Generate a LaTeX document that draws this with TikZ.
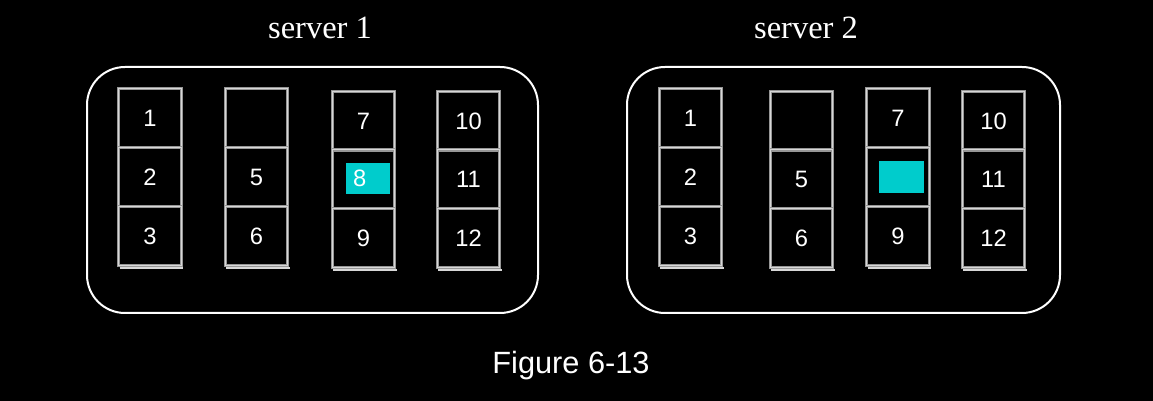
\documentclass[tikz,border=0pt]{standalone}
\usepackage{fontspec}
\setmainfont{Liberation Sans}
\newfontfamily\titlefont{Liberation Serif}
\definecolor{slotcyan}{RGB}{0,204,204}
\definecolor{slotgray}{RGB}{150,150,150}
\definecolor{slotlight}{RGB}{215,215,215}
\begin{document}
\begin{tikzpicture}[
    x=0.02cm, y=-0.02cm,
    slot/.style={rectangle, draw=slotgray, line width=0.6pt, double=slotlight, double distance=0.5pt, minimum width=1.25cm, minimum height=1.17cm, inner sep=0pt, text=white, font=\fontsize{13.5}{16}\selectfont},
    rack/.style={draw=white, line width=0.04cm, rounded corners=0.76cm},
    chunk/.style={rectangle, fill=slotcyan, inner sep=0pt, minimum height=0.63cm, text=white, font=\fontsize{13.5}{16}\selectfont},
    title/.style={text=white, font=\titlefont\fontsize{18.5}{21}\selectfont},
    shade/.style={draw=slotlight, line width=0.045cm}
]
    \fill[black] (0,0) rectangle (1153,401);

    \node[title] (t1) at (320,28) {server 1};
    \node[title] (t2) at (806,28) {server 2};
    \node[text=white, font=\fontsize{17.5}{20}\selectfont] (fig) at (571,366) {Figure 6-13};

    \draw[rack] (87,67) rectangle (538,313);
    \draw[rack] (627,67) rectangle (1060,313);

    % server 1
    \node[slot] (a1) at (150,118) {1};
    \node[slot] (a2) at (150,177) {2};
    \node[slot] (a3) at (150,236) {3};
    \node[slot] (a4) at (256.5,118) {};
    \node[slot] (a5) at (256.5,177) {5};
    \node[slot] (a6) at (256.5,236) {6};
    \node[slot] (a7) at (363.5,121) {7};
    \node[slot] (a8) at (363.5,179) {};
    \node[slot] (a9) at (363.5,238) {9};
    \node[slot] (a10) at (468.5,121) {10};
    \node[slot] (a11) at (468.5,179) {11};
    \node[slot] (a12) at (468.5,238) {12};
    \node[chunk, text width=0.6cm, inner xsep=0.14cm, align=left] (c1) at (368,178.5) {8};

    % server 2
    \node[slot] (b1) at (690.5,118) {1};
    \node[slot] (b2) at (690.5,177) {2};
    \node[slot] (b3) at (690.5,236) {3};
    \node[slot] (b4) at (801.5,121) {};
    \node[slot] (b5) at (801.5,179) {5};
    \node[slot] (b6) at (801.5,238) {6};
    \node[slot] (b7) at (898,118) {7};
    \node[slot] (b8) at (898,177) {};
    \node[slot] (b9) at (898,236) {9};
    \node[slot] (b10) at (993.5,121) {10};
    \node[slot] (b11) at (993.5,179) {11};
    \node[slot] (b12) at (993.5,238) {12};
    \node[chunk, minimum width=0.9cm] (c2) at (901.5,177) {};

    % shadow lines under the columns
    \foreach \n in {a3,a6,a9,a12,b3,b6,b9,b12}
        \draw[shade] ([xshift=0.03cm, yshift=-0.05cm]\n.south west) -- ([xshift=0.03cm, yshift=-0.05cm]\n.south east);
\end{tikzpicture}
\end{document}
